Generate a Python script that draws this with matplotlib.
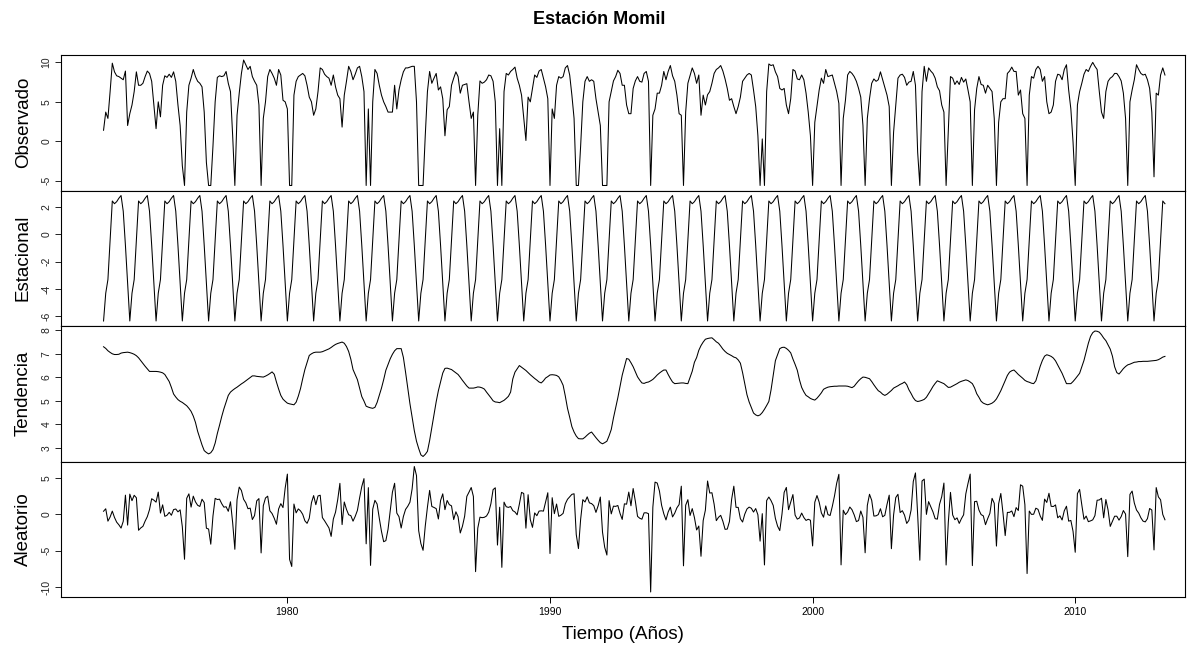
import numpy as np
import matplotlib.pyplot as plt

plt.rcParams['font.family'] = ['Liberation Sans', 'DejaVu Sans']

# Serie mensual desde enero de 1973
inicio = 1973

observado = [
    1.4, 3.7, 2.9, 6.3, 9.9, 8.8, 8.3, 8.2, 8.0, 7.8, 8.9, 2.0,        # 1973
    3.5, 4.6, 6.3, 8.8, 7.1, 7.1, 7.35, 8.2, 8.9, 8.6, 7.6, 4.6,       # 1974
    1.6, 5.0, 3.1, 7.1, 8.3, 8.1, 8.5, 8.1, 8.8, 7.6, 4.6, 2.0,        # 1975
    -3.1, -5.6, 3.7, 7.1, 8.0, 9.1, 8.2, 7.6, 7.35, 6.9, 3.7, -2.7,    # 1976
    -5.6, -5.6, -0.6, 5.0, 8.1, 8.3, 8.2, 8.3, 8.85, 7.35, 6.3, 0.7,   # 1977
    -5.6, 3.3, 6.1, 8.6, 10.3, 9.7, 9.1, 9.5, 8.2, 7.6, 7.1, 4.6,      # 1978
    -5.6, 2.9, 5.0, 8.2, 9.1, 8.6, 8.0, 7.1, 9.1, 8.4, 5.2, 5.0,       # 1979
    4.1, -5.6, -5.6, 5.85, 7.6, 8.2, 8.4, 8.6, 8.3, 7.1, 5.6, 5.0,     # 1980
    3.3, 4.1, 6.3, 9.3, 9.1, 8.5, 8.2, 8.0, 7.1, 8.4, 6.9, 5.85,       # 1981
    5.4, 1.8, 5.85, 7.6, 9.5, 8.85, 7.8, 8.5, 9.3, 9.5, 8.2, 6.3,      # 1982
    -5.6, 4.1, -5.6, 5.0, 9.1, 8.6, 7.1, 5.85, 5.0, 4.4, 3.7, 3.7,     # 1983
    3.7, 7.1, 4.1, 6.5, 7.8, 8.8, 9.3, 9.3, 9.4, 9.5, 9.5, 5.0,        # 1984
    -5.6, -5.6, -5.6, 0.7, 6.3, 8.85, 7.35, 8.0, 8.6, 6.5, 6.9, 5.4,   # 1985
    0.7, 4.0, 4.4, 7.1, 8.0, 8.8, 8.2, 6.1, 7.1, 7.2, 7.3, 5.0,        # 1986
    2.9, 3.7, -5.6, 3.3, 7.65, 7.35, 7.5, 7.8, 8.4, 8.3, 7.6, 5.0,     # 1987
    -5.6, 1.6, -5.6, 6.3, 8.6, 8.4, 8.85, 9.1, 9.4, 8.0, 7.1, 5.85,    # 1988
    2.9, 0.1, 5.6, 5.0, 6.7, 8.4, 8.1, 8.9, 9.1, 8.0, 6.9, 5.4,        # 1989
    -5.6, 4.1, 2.9, 7.1, 8.2, 8.0, 8.2, 9.3, 9.6, 8.4, 5.85, 2.9,      # 1990
    -5.6, -5.6, -0.6, 5.0, 7.6, 8.2, 7.6, 7.8, 7.6, 5.4, 3.7, 2.0,     # 1991
    -5.6, -5.6, -5.6, 5.0, 6.3, 7.65, 8.2, 9.0, 8.6, 7.1, 7.1, 4.6,    # 1992
    3.5, 3.5, 6.7, 7.65, 8.2, 7.6, 7.5, 8.6, 8.85, 7.6, -5.6, 3.3,     # 1993
    4.1, 6.1, 6.1, 7.1, 8.85, 7.8, 8.85, 9.6, 8.3, 7.6, 5.85, 3.5,     # 1994
    3.3, -5.6, 3.7, 7.35, 8.3, 9.3, 8.6, 7.35, 8.4, 3.3, 5.85, 4.6,    # 1995
    5.9, 6.3, 7.35, 8.6, 9.1, 9.3, 9.6, 8.9, 7.9, 6.7, 5.2, 5.4,       # 1996
    4.4, 3.5, 4.4, 5.6, 7.6, 8.0, 8.4, 8.6, 8.4, 6.5, 4.4, 0.7,        # 1997
    -5.6, 0.3, -5.6, 6.3, 9.8, 9.6, 9.7, 8.8, 8.2, 6.7, 6.5, 6.7,      # 1998
    4.6, 3.5, 5.4, 9.1, 8.9, 7.9, 7.8, 8.4, 7.8, 6.1, 3.7, 0.7,        # 1999
    -5.6, 2.4, 4.4, 6.5, 8.0, 7.35, 9.1, 8.2, 8.3, 8.4, 7.35, 6.3,     # 2000
    4.8, -5.6, 2.9, 5.2, 8.4, 8.85, 8.6, 8.2, 7.6, 6.7, 5.6, 2.0,      # 2001
    -5.6, 2.9, 5.4, 7.35, 7.9, 7.6, 7.8, 8.8, 7.8, 6.8, 5.85, 4.4,     # 2002
    -5.6, 1.15, 4.6, 8.0, 8.4, 8.5, 8.1, 7.1, 7.5, 7.6, 8.85, 7.1,     # 2003
    -1.4, -5.6, 6.3, 9.5, 7.6, 9.3, 8.9, 8.6, 8.0, 6.9, 6.4, 4.6,      # 2004
    3.7, -5.6, 1.15, 8.2, 8.0, 7.2, 7.65, 7.2, 8.1, 7.5, 7.9, 6.5,     # 2005
    5.0, -5.6, 4.0, 6.7, 8.2, 7.2, 7.1, 6.1, 7.1, 6.7, 6.3, 2.9,       # 2006
    -5.6, 2.4, 5.0, 5.4, 5.4, 8.6, 8.9, 9.4, 8.85, 8.85, 5.85, 6.5,    # 2007
    3.5, 2.9, -5.6, 5.85, 8.2, 8.0, 9.1, 9.5, 9.1, 7.6, 8.2, 5.0,      # 2008
    3.5, 3.7, 4.6, 7.6, 8.5, 8.4, 7.8, 9.1, 9.7, 6.5, 4.1, -0.1,       # 2009
    -5.6, 4.6, 6.3, 7.35, 8.5, 9.1, 8.85, 9.5, 10.0, 9.5, 9.1, 6.3,    # 2010
    3.7, 2.9, 6.3, 7.6, 8.0, 8.2, 8.6, 8.6, 8.2, 7.65, 6.1, 2.9,       # 2011
    -5.6, 5.0, 6.5, 7.8, 9.7, 9.1, 8.6, 8.4, 8.5, 7.8, 6.7, 3.7,       # 2012
    -4.5, 6.1, 5.85, 8.4, 9.3, 8.4,                                    # 2013
]

# Componente estacional (un ciclo de 12 meses)
estacional_mes = [-6.33, -4.3, -3.3, -0.4, 2.45, 2.25, 2.4, 2.65, 2.85, 1.7, -0.8, -3.6]

tendencia = [
    7.30, 7.23, 7.13, 7.06, 7.00, 6.97, 6.97, 6.98, 7.03, 7.05, 7.06, 7.07,   # 1973
    7.05, 7.02, 6.98, 6.92, 6.83, 6.71, 6.59, 6.47, 6.36, 6.25, 6.25, 6.25,   # 1974
    6.25, 6.24, 6.22, 6.19, 6.12, 5.97, 5.82, 5.57, 5.29, 5.16, 5.05, 4.98,   # 1975
    4.93, 4.86, 4.79, 4.68, 4.55, 4.35, 4.08, 3.70, 3.41, 3.12, 2.88, 2.80,   # 1976
    2.74, 2.79, 2.92, 3.20, 3.61, 3.96, 4.33, 4.66, 4.95, 5.23, 5.37, 5.45,   # 1977
    5.52, 5.58, 5.65, 5.72, 5.78, 5.85, 5.92, 5.99, 6.06, 6.06, 6.04, 6.03,   # 1978
    6.02, 6.01, 6.05, 6.10, 6.16, 6.23, 6.13, 5.80, 5.50, 5.23, 5.07, 4.98,   # 1979
    4.90, 4.87, 4.85, 4.83, 4.94, 5.20, 5.52, 5.94, 6.33, 6.63, 6.93, 7.00,   # 1980
    7.05, 7.07, 7.07, 7.07, 7.09, 7.13, 7.17, 7.21, 7.27, 7.34, 7.40, 7.44,   # 1981
    7.47, 7.50, 7.45, 7.31, 7.10, 6.77, 6.33, 6.12, 5.90, 5.54, 5.18, 4.99,   # 1982
    4.77, 4.73, 4.70, 4.68, 4.72, 4.93, 5.23, 5.54, 5.90, 6.30, 6.54, 6.79,   # 1983
    6.98, 7.13, 7.22, 7.22, 7.22, 6.85, 6.22, 5.54, 4.88, 4.30, 3.73, 3.28,   # 1984
    2.97, 2.70, 2.63, 2.72, 2.85, 3.31, 3.86, 4.40, 4.96, 5.43, 5.80, 6.18,   # 1985
    6.38, 6.39, 6.36, 6.33, 6.26, 6.19, 6.12, 6.00, 5.87, 5.75, 5.63, 5.54,   # 1986
    5.54, 5.54, 5.56, 5.59, 5.58, 5.55, 5.50, 5.37, 5.25, 5.13, 5.00, 4.95,   # 1987
    4.94, 4.92, 4.97, 5.02, 5.10, 5.19, 5.37, 5.93, 6.22, 6.36, 6.50, 6.43,   # 1988
    6.36, 6.29, 6.20, 6.11, 6.03, 5.95, 5.88, 5.80, 5.76, 5.85, 5.97, 6.03,   # 1989
    6.10, 6.11, 6.10, 6.08, 6.02, 5.86, 5.66, 5.20, 4.68, 4.30, 3.90, 3.67,   # 1990
    3.50, 3.39, 3.38, 3.38, 3.45, 3.54, 3.62, 3.67, 3.55, 3.43, 3.32, 3.22,   # 1991
    3.17, 3.22, 3.28, 3.51, 3.78, 4.27, 4.70, 5.13, 5.61, 6.09, 6.45, 6.80,   # 1992
    6.77, 6.62, 6.45, 6.24, 6.02, 5.88, 5.76, 5.74, 5.78, 5.80, 5.85, 5.91,   # 1993
    6.00, 6.10, 6.18, 6.25, 6.31, 6.31, 6.12, 5.95, 5.80, 5.73, 5.74, 5.75,   # 1994
    5.76, 5.76, 5.74, 5.73, 6.00, 6.26, 6.64, 6.84, 7.15, 7.35, 7.50, 7.62,   # 1995
    7.65, 7.67, 7.68, 7.60, 7.51, 7.45, 7.33, 7.20, 7.10, 7.02, 6.97, 6.92,   # 1996
    6.86, 6.83, 6.74, 6.60, 6.20, 5.72, 5.26, 4.95, 4.71, 4.48, 4.40, 4.36,   # 1997
    4.40, 4.50, 4.64, 4.80, 4.97, 5.46, 6.07, 6.71, 6.97, 7.22, 7.27, 7.28,   # 1998
    7.23, 7.15, 7.04, 6.78, 6.55, 6.30, 5.89, 5.57, 5.38, 5.23, 5.17, 5.10,   # 1999
    5.06, 5.03, 5.11, 5.22, 5.34, 5.49, 5.54, 5.58, 5.60, 5.61, 5.62, 5.62,   # 2000
    5.63, 5.63, 5.63, 5.63, 5.62, 5.59, 5.56, 5.62, 5.74, 5.85, 5.94, 6.01,   # 2001
    6.00, 5.97, 5.94, 5.82, 5.68, 5.55, 5.43, 5.37, 5.28, 5.23, 5.28, 5.36,   # 2002
    5.44, 5.54, 5.59, 5.64, 5.70, 5.74, 5.80, 5.69, 5.47, 5.31, 5.13, 5.01,   # 2003
    4.97, 4.99, 5.02, 5.06, 5.15, 5.30, 5.45, 5.61, 5.74, 5.85, 5.81, 5.77,   # 2004
    5.73, 5.65, 5.57, 5.58, 5.63, 5.68, 5.73, 5.79, 5.83, 5.86, 5.89, 5.86,   # 2005
    5.80, 5.73, 5.55, 5.30, 5.15, 4.98, 4.90, 4.86, 4.83, 4.86, 4.90, 4.97,   # 2006
    5.08, 5.25, 5.43, 5.64, 5.86, 6.08, 6.22, 6.28, 6.31, 6.22, 6.12, 6.04,   # 2007
    5.96, 5.87, 5.82, 5.79, 5.75, 5.73, 5.85, 6.16, 6.47, 6.72, 6.90, 6.96,   # 2008
    6.93, 6.89, 6.82, 6.70, 6.52, 6.35, 6.17, 5.95, 5.73, 5.73, 5.73, 5.82,   # 2009
    5.93, 6.05, 6.17, 6.44, 6.72, 7.08, 7.45, 7.74, 7.90, 7.97, 7.96, 7.92,   # 2010
    7.81, 7.67, 7.56, 7.38, 7.20, 6.90, 6.45, 6.20, 6.14, 6.25, 6.37, 6.46,   # 2011
    6.53, 6.56, 6.60, 6.64, 6.65, 6.67, 6.67, 6.68, 6.68, 6.68, 6.69, 6.70,   # 2012
    6.71, 6.72, 6.75, 6.80, 6.86, 6.89,                                       # 2013
]

etiquetas = ['Observado', 'Estacional', 'Tendencia', 'Aleatorio']
marcas_y = [[-5, 0, 5, 10], [-6, -4, -2, 0, 2], [3, 4, 5, 6, 7, 8], [-10, -5, 0, 5]]
marcas_x = [1980, 1990, 2000, 2010]

# Construcción de las componentes
n = len(observado)
tiempo = inicio + np.arange(n) / 12
estacional = np.resize(estacional_mes, n)
aleatorio = np.array(observado) - estacional - np.array(tendencia)
series = [np.array(observado), estacional, np.array(tendencia), aleatorio]

W, H = 1199, 645
fig = plt.figure(figsize=(W / 100, H / 100), dpi=100)
gs = fig.add_gridspec(4, 1, left=61 / W, right=1185 / W, top=1 - 55 / H,
                      bottom=1 - 597 / H, hspace=0)

for i, (serie, nombre, yt) in enumerate(zip(series, etiquetas, marcas_y)):
    ax = fig.add_subplot(gs[i])
    ax.plot(tiempo, serie, color='black', lw=0.75)
    ax.set_xlim(1971.38, 2014.18)
    ax.margins(y=0.04)
    ax.set_yticks(yt)
    ax.set_yticklabels([str(v) for v in yt], rotation=90, va='center', fontsize=7.5)
    ax.set_ylabel(nombre, fontsize=13.5)
    ax.yaxis.set_label_coords(-0.026, 0.5)
    ax.tick_params(axis='y', length=4, width=0.7, pad=3, colors='#222222')
    for s in ax.spines.values():
        s.set_linewidth(0.8)
    if i < 3:
        ax.set_xticks([])
    else:
        ax.set_xticks(marcas_x)
        ax.tick_params(axis='x', length=4, width=0.7, pad=3, labelsize=7.5)
        ax.set_xlabel('Tiempo (Años)', fontsize=13.5, labelpad=7)

fig.suptitle('Estación Momil', fontsize=13, fontweight='bold', y=1 - 19 / H, va='center')

fig.savefig('out.png', dpi=100)
